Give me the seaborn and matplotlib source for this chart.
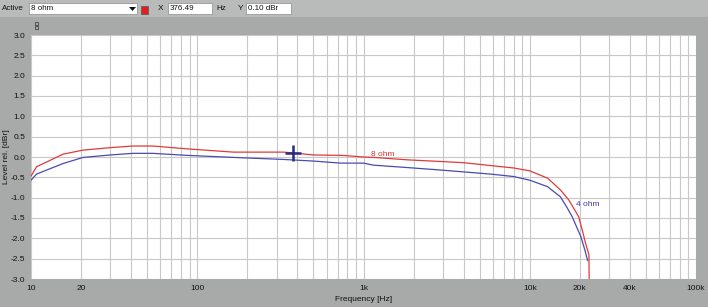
import matplotlib
matplotlib.use("Agg")
import matplotlib.pyplot as plt
import seaborn as sns
import pandas as pd
from matplotlib.patches import Rectangle, Polygon
from matplotlib.ticker import FixedLocator, NullFormatter

# ---- data ----
freq_8ohm = [10, 10.8, 15.6, 20.6, 30, 41, 54, 87, 165, 330, 376.49, 500, 750, 1000, 1150,
             1840, 2900, 4000, 5800, 8000, 10000, 12800, 15300, 17200, 19700, 21000,
             21750, 22700, 22800]
level_8ohm = [-0.47, -0.24, 0.07, 0.17, 0.23, 0.27, 0.27, 0.20, 0.12, 0.12, 0.10, 0.05, 0.04,
              0.0, -0.01, -0.07, -0.11, -0.14, -0.21, -0.27, -0.34, -0.52, -0.81, -1.06,
              -1.47, -1.90, -2.15, -2.40, -3.20]
freq_4ohm = [10, 10.8, 15.6, 20.6, 30, 41, 54, 87, 165, 330, 500, 726, 1000, 1145, 1840,
             2900, 5800, 8000, 10000, 12800, 15300, 16800, 18000, 20300, 21500, 22300]
level_4ohm = [-0.57, -0.42, -0.16, -0.01, 0.05, 0.09, 0.09, 0.04, -0.01, -0.06, -0.10,
              -0.15, -0.15, -0.20, -0.26, -0.32, -0.42, -0.48, -0.57, -0.73, -0.98, -1.25,
              -1.47, -1.96, -2.30, -2.55]
series_labels = ["8 ohm", "4 ohm"]
y_ticks = [-3.0, -2.5, -2.0, -1.5, -1.0, -0.5, 0.0, 0.5, 1.0, 1.5, 2.0, 2.5, 3.0]
x_ticks = [10, 20, 100, 1000, 10000, 20000, 40000, 100000]
x_ticklabels = ["10", "20", "100", "1k", "10k", "20k", "40k", "100k"]
cursor_x, cursor_y = 376.49, 0.10

W, H = 708, 307
sns.set_style("white")
plt.rcParams['font.family'] = ['Liberation Sans', 'DejaVu Sans']

BG = "#a7aaa9"
fig = plt.figure(figsize=(W / 100, H / 100), dpi=100, facecolor=BG)

def fx(x):
    return x / W

def fy(y):
    return 1 - y / H

def rect(x0, y0, x1, y1, fc, ec="none", lw=0.0):
    fig.patches.append(Rectangle((fx(x0), fy(y1)), fx(x1) - fx(x0), fy(y0) - fy(y1),
                                 transform=fig.transFigure, facecolor=fc, edgecolor=ec,
                                 linewidth=lw, zorder=0))

# toolbar band
rect(0, 0, W, 17, "#b9bbba")
rect(29, 3, 137, 14, "white", "#8a8a8a", 0.5)
fig.text(fx(31), fy(9), "8 ohm", fontsize=5.8, va="center", ha="left", color="#111")
fig.text(fx(2), fy(9), "Active", fontsize=5.8, va="center", ha="left", color="#111")
fig.patches.append(Polygon([(fx(129), fy(7)), (fx(136), fy(7)), (fx(132.5), fy(11))],
                           closed=True, transform=fig.transFigure, facecolor="#111",
                           edgecolor="none"))
rect(140.5, 6.5, 147.5, 13.5, "#e02020", "#555", 0.5)
fig.text(fx(158), fy(9), "X", fontsize=6, va="center", ha="left", color="#111")
rect(168, 3, 212, 14, "white", "#8a8a8a", 0.5)
fig.text(fx(170), fy(9), "376.49", fontsize=5.8, va="center", ha="left", color="#111")
fig.text(fx(216), fy(9), "Hz", fontsize=5.8, va="center", ha="left", color="#111")
fig.text(fx(238), fy(9), "Y", fontsize=6, va="center", ha="left", color="#111")
rect(246, 3, 291, 14, "white", "#8a8a8a", 0.5)
fig.text(fx(248), fy(9), "0.10 dBr", fontsize=5.8, va="center", ha="left", color="#111")
rect(34.5, 21.5, 37.5, 25, "none", "#444", 0.6)
rect(34.5, 25.5, 37.5, 29, "none", "#444", 0.6)

# plot area
ax = fig.add_axes([fx(31), fy(279), fx(696) - fx(31), fy(35) - fy(279)])
ax.set_facecolor("white")

df8 = pd.DataFrame({"freq": freq_8ohm, "level": level_8ohm})
df4 = pd.DataFrame({"freq": freq_4ohm, "level": level_4ohm})
sns.lineplot(data=df4, x="freq", y="level", ax=ax, color="#4a4ab0", lw=0.9,
             sort=False, estimator=None, zorder=3)
sns.lineplot(data=df8, x="freq", y="level", ax=ax, color="#e03a3a", lw=0.9,
             sort=False, estimator=None, zorder=4)

ax.set_xscale("log")
ax.set_xlim(10, 100000)
ax.set_ylim(-3, 3)

minor = [m * 10 ** d for d in range(1, 5) for m in range(2, 10)]
ax.xaxis.set_minor_locator(FixedLocator(minor))
ax.xaxis.set_minor_formatter(NullFormatter())
ax.set_xticks(x_ticks)
ax.set_xticklabels(x_ticklabels)
ax.set_yticks(y_ticks)
ax.set_yticklabels([f"{v:.1f}" for v in y_ticks])

ax.grid(True, which="major", axis="both", color="#c8c8c8", lw=0.8)
ax.grid(True, which="minor", axis="x", color="#c8c8c8", lw=0.8)
ax.set_axisbelow(True)

for s in ax.spines.values():
    s.set_visible(False)

ax.tick_params(axis="y", which="major", direction="out", length=3, width=0.8,
               color="#222", labelsize=6, pad=1, labelcolor="#111")
ax.tick_params(axis="x", which="major", direction="out", length=2.5, width=0.8,
               color="#222", labelsize=6, pad=1.5, labelcolor="#111")
ax.tick_params(axis="x", which="minor", length=0)

ax.set_xlabel("Frequency [Hz]", fontsize=6, color="#111", labelpad=3)
ax.set_ylabel("Level rel. [dBr]", fontsize=6, color="#111")
ax.yaxis.set_label_coords((10 - 31) / 665, 0.5)

# series labels
ax.text(1300, -0.02, series_labels[0], fontsize=6, color="#d03030", ha="center", va="bottom")
ax.text(22300, -1.18, series_labels[1], fontsize=6, color="#3a3aa8", ha="center", va="center")

# cursor
ax.plot([cursor_x], [cursor_y], marker="+", markersize=12, mew=1.8, color="#2a2a80", zorder=5)

fig.savefig("out.png", dpi=100, facecolor=BG)
